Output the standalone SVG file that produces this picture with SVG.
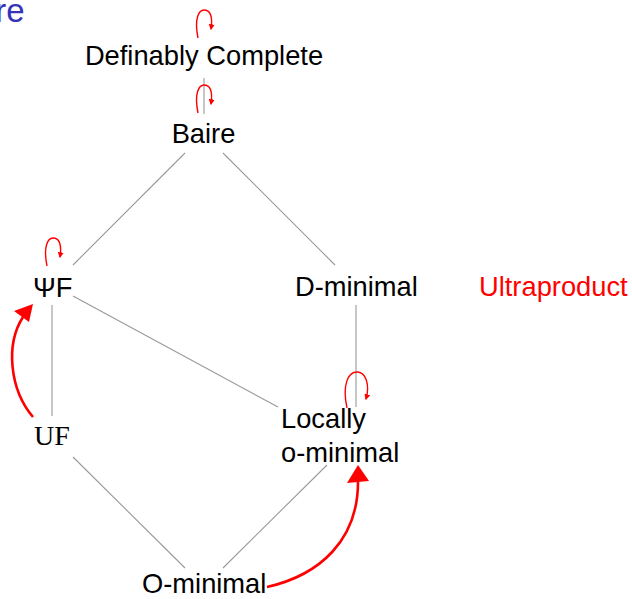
<svg xmlns="http://www.w3.org/2000/svg" width="632" height="599" viewBox="0 0 632 599">
  <style>
    .lbl { font-family: "Liberation Sans", Arial, sans-serif; font-size: 27.3px; fill: #000; }
    .serif { font-family: "Liberation Serif", "Times New Roman", serif; font-size: 28px; fill: #000; }
    .edge { stroke: #999; stroke-width: 1.1; fill: none; }
    .loop { stroke: #ff0000; stroke-width: 1.4; fill: none; }
    .big { stroke: #ff0000; stroke-width: 2.6; fill: none; }
  </style>
  <defs>
    <marker id="tip" viewBox="0 0 10 10" refX="8" refY="5" markerWidth="6" markerHeight="7" markerUnits="userSpaceOnUse" orient="auto">
      <path d="M0,0 L10,5 L0,10 z" fill="#ff0000"/>
    </marker>
    <path id="selfloop" d="M198,38 C194,18 199,10 204,10 C210,10 213,16 211,29" class="loop" marker-end="url(#tip)"/>
  </defs>

  <!-- slide title fragment -->
  <text x="24.5" y="22" font-family="Liberation Sans, Arial, sans-serif" font-size="33" fill="#3434b8" text-anchor="end">re</text>

  <g id="connectors">
    <line class="edge" x1="204" y1="78" x2="204" y2="114"/>
    <line class="edge" x1="185" y1="153" x2="73" y2="265"/>
    <line class="edge" x1="223" y1="153" x2="335" y2="265"/>
    <line class="edge" x1="52" y1="305" x2="52" y2="416"/>
    <line class="edge" x1="73" y1="296" x2="278" y2="407"/>
    <line class="edge" x1="356" y1="305" x2="356" y2="407"/>
    <line class="edge" x1="73" y1="457" x2="185" y2="568"/>
    <line class="edge" x1="327" y1="465" x2="223" y2="568"/>

    <!-- self loops -->
    <use href="#selfloop"/>
    <use href="#selfloop" transform="translate(0,75)"/>
    <use href="#selfloop" transform="translate(-151,228)"/>
    <path class="loop" d="M347,408 C342,385 348,372 357,372 C366,372 370,385 366,399" marker-end="url(#tip)"/>

    <!-- ultraproduct arrows -->
    <path class="big" d="M33,417 C10,390 5,345 23,317"/>
    <polygon points="33,304 14,311 29,322" fill="#ff0000"/>
    <path class="big" d="M267,587 C320,575 358,540 358,482"/>
    <polygon points="358,465 347,483 369,481" fill="#ff0000"/>
  </g>

  <g id="definably-complete"><text class="lbl" x="204" y="65" text-anchor="middle">Definably Complete</text></g>
  <g id="baire"><text class="lbl" x="203.5" y="143" text-anchor="middle">Baire</text></g>
  <g id="psi-f"><text class="lbl" x="33" y="297">ΨF</text></g>
  <g id="d-minimal"><text class="lbl" x="295" y="296">D-minimal</text></g>
  <g id="ultraproduct"><text class="lbl" x="479" y="296" style="fill:#ff0000">Ultraproduct</text></g>
  <g id="uf"><text class="serif" x="34" y="445">UF</text></g>
  <g id="locally-o-minimal">
    <text class="lbl" x="281" y="428">Locally</text>
    <text class="lbl" x="281" y="462">o-minimal</text>
  </g>
  <g id="o-minimal"><text class="lbl" x="142" y="593">O-minimal</text></g>
</svg>
